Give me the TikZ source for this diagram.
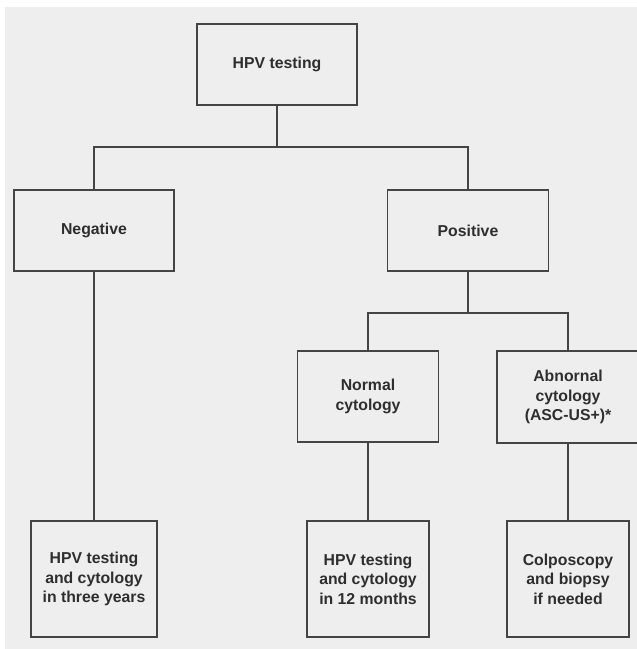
\documentclass[tikz,border=0pt]{standalone}
\usepackage{fontspec}
\setmainfont{Liberation Sans}
\definecolor{bggray}{HTML}{EEEEEE}
\definecolor{linegray}{HTML}{444444}
\definecolor{textgray}{HTML}{2E2E2E}
\begin{document}
\begin{tikzpicture}[x=1pt,y=-1pt,
  box/.style={draw=linegray, line width=1.8pt, rectangle, align=center, inner sep=0pt,
    font=\fontsize{15.8}{19.5}\selectfont\bfseries, text=textgray},
  conn/.style={draw=linegray, line width=1.8pt}]
\useasboundingbox (0,0) rectangle (637,649);
\clip (0,0) rectangle (637,649);
\fill[bggray] (5,7) rectangle (640,652);
\node[box, minimum width=160pt, minimum height=81pt] (top) at (277,64.5) {HPV testing};
\node[box, minimum width=160pt, minimum height=81pt] (neg) at (94,230.5) {Negative};
\node[box, minimum width=161pt, minimum height=81pt] (pos) at (468,230.5) {Positive};
\node[box, minimum width=141pt, minimum height=91pt] (norm) at (368,396.5) {Normal\\cytology};
\node[box, minimum width=142pt, minimum height=92pt] (abn) at (568,397) {Abnornal\\cytology\\(ASC-US+)*};
\node[box, minimum width=126pt, minimum height=116pt] (three) at (94,579) {HPV testing\\and cytology\\in three years};
\node[box, minimum width=122pt, minimum height=116pt] (twelve) at (368,579) {HPV testing\\and cytology\\in 12 months};
\node[box, minimum width=122pt, minimum height=116pt] (colpo) at (568,579) {Colposcopy\\and biopsy\\if needed};
\coordinate (j1) at (277,147);
\coordinate (j2) at (468,313);
\draw[conn] (top.south) -- (j1);
\draw[conn] (j1) -| (neg.north);
\draw[conn] (j1) -| (pos.north);
\draw[conn] (pos.south) -- (j2);
\draw[conn] (j2) -| (norm.north);
\draw[conn] (j2) -| (abn.north);
\draw[conn] (neg.south) -- (three.north);
\draw[conn] (norm.south) -- (twelve.north);
\draw[conn] (abn.south) -- (colpo.north);
\end{tikzpicture}
\end{document}
